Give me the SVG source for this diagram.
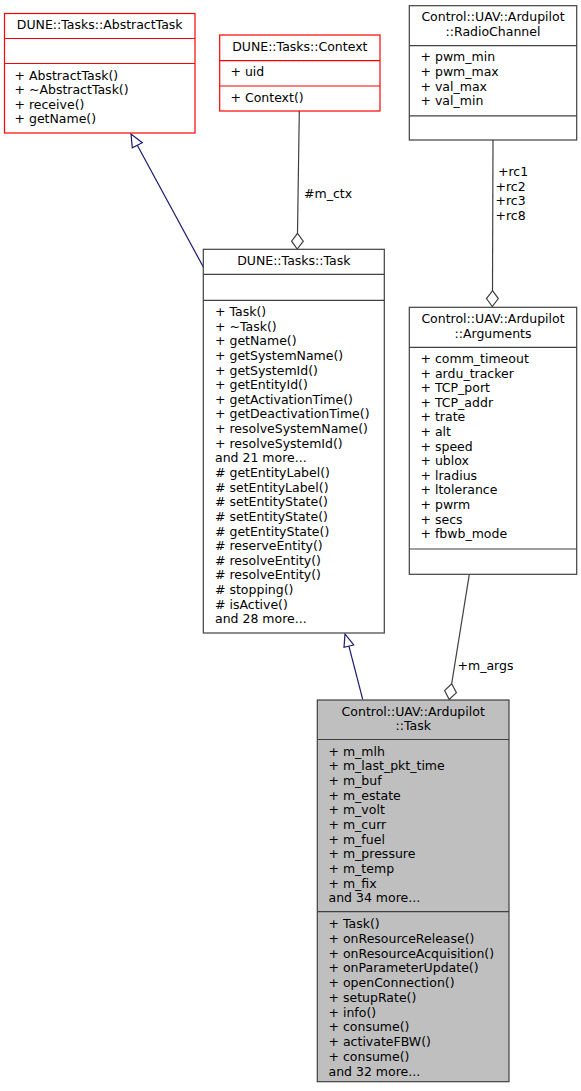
<svg xmlns="http://www.w3.org/2000/svg" width="581" height="1091" viewBox="0 0 581 1091">
<style>
text{font-family:"DejaVu Sans","Liberation Sans",sans-serif;font-size:12.5px;fill:#000}
.t{text-anchor:middle}
.box{fill:#fff;stroke:#404040;stroke-width:1.2}
.red{fill:#fff;stroke:#ff0000;stroke-width:1.2}
.main{fill:#bfbfbf;stroke:#404040;stroke-width:1.2}
.sep{stroke:#404040;stroke-width:1.2}
.sepr{stroke:#ff0000;stroke-width:1.2}
.inh{stroke:#191970;stroke-width:1.2;fill:none}
.inhh{stroke:#191970;stroke-width:1.2;fill:#fff}
.agg{stroke:#404040;stroke-width:1.2;fill:none}
.aggh{stroke:#404040;stroke-width:1.2;fill:#fff}
</style>
<rect width="581" height="1091" fill="#fff"/>
<g id="connectors">
<line class="inh" x1="204" y1="268.3" x2="137.3" y2="145.2"/>
<polygon class="inhh" points="131,134 132.3,147.7 142.3,142.7"/>
<line class="inh" x1="362.7" y1="699.3" x2="348.9" y2="646.2"/>
<polygon class="inhh" points="345,634 344,647.3 353.7,645"/>
<line class="agg" x1="299.3" y1="111" x2="297.5" y2="233.3"/>
<polygon class="aggh" points="297.5,233.3 303.3,241.2 297.2,249 291.6,241.2"/>
<text x="304" y="197.5">#m_ctx</text>
<line class="agg" x1="493" y1="140" x2="492.5" y2="290.7"/>
<polygon class="aggh" points="492.5,290.7 498.3,298.6 492.3,306.5 486.5,298.6"/>
<text x="498" y="176">+rc1</text>
<text x="495.5" y="190.5">+rc2</text>
<text x="495.5" y="205">+rc3</text>
<text x="495.5" y="219.5">+rc8</text>
<line class="agg" x1="469.3" y1="574.3" x2="451.7" y2="683.7"/>
<polygon class="aggh" points="451.7,683.7 456.4,692.6 449.2,699.5 444.6,690.6"/>
<text x="457.5" y="670">+m_args</text>
</g>
<g id="node-abstracttask">
<rect class="red" x="4.5" y="13.5" width="190.5" height="119.5"/>
<line class="sepr" x1="4.5" y1="38.5" x2="195" y2="38.5"/>
<line class="sepr" x1="4.5" y1="63.5" x2="195" y2="63.5"/>
<text class="t" x="99.7" y="29.2">DUNE::Tasks::AbstractTask</text>
<text x="14.5" y="79.5">+ AbstractTask()</text>
<text x="14.5" y="94.1">+ ~AbstractTask()</text>
<text x="14.5" y="108.7">+ receive()</text>
<text x="14.5" y="123.3">+ getName()</text>
</g>
<g id="node-context">
<rect class="red" x="219.7" y="35" width="160.3" height="76"/>
<line class="sepr" x1="219.7" y1="60.7" x2="380" y2="60.7"/>
<line class="sepr" x1="219.7" y1="86" x2="380" y2="86"/>
<text class="t" x="299.8" y="50.7">DUNE::Tasks::Context</text>
<text x="230.5" y="76.4">+ uid</text>
<text x="230.5" y="101.7">+ Context()</text>
</g>
<g id="node-radiochannel">
<rect class="box" x="409.3" y="5.7" width="167.4" height="134.3"/>
<line class="sep" x1="409.3" y1="45.7" x2="576.7" y2="45.7"/>
<line class="sep" x1="409.3" y1="115.8" x2="576.7" y2="115.8"/>
<text class="t" x="493" y="21.4">Control::UAV::Ardupilot</text>
<text class="t" x="493" y="36">::RadioChannel</text>
<text x="420.5" y="61.4">+ pwm_min</text>
<text x="420.5" y="76">+ pwm_max</text>
<text x="420.5" y="90.6">+ val_max</text>
<text x="420.5" y="105.2">+ val_min</text>
</g>
<g id="node-task">
<rect class="box" x="203.3" y="249.3" width="181" height="383.7"/>
<line class="sep" x1="203.3" y1="274.3" x2="384.3" y2="274.3"/>
<line class="sep" x1="203.3" y1="300.3" x2="384.3" y2="300.3"/>
<text class="t" x="293.8" y="265">DUNE::Tasks::Task</text>
<text x="215" y="316">+ Task()</text>
<text x="215" y="330.6">+ ~Task()</text>
<text x="215" y="345.3">+ getName()</text>
<text x="215" y="359.9">+ getSystemName()</text>
<text x="215" y="374.5">+ getSystemId()</text>
<text x="215" y="389.2">+ getEntityId()</text>
<text x="215" y="403.8">+ getActivationTime()</text>
<text x="215" y="418.4">+ getDeactivationTime()</text>
<text x="215" y="433">+ resolveSystemName()</text>
<text x="215" y="447.7">+ resolveSystemId()</text>
<text x="215" y="462.3">and 21 more...</text>
<text x="215" y="476.9"># getEntityLabel()</text>
<text x="215" y="491.6"># setEntityLabel()</text>
<text x="215" y="506.2"># setEntityState()</text>
<text x="215" y="520.8"># setEntityState()</text>
<text x="215" y="535.5"># getEntityState()</text>
<text x="215" y="550.1"># reserveEntity()</text>
<text x="215" y="564.7"># resolveEntity()</text>
<text x="215" y="579.3"># resolveEntity()</text>
<text x="215" y="594"># stopping()</text>
<text x="215" y="608.6"># isActive()</text>
<text x="215" y="623.2">and 28 more...</text>
</g>
<g id="node-arguments">
<rect class="box" x="409.3" y="307.3" width="167.4" height="267"/>
<line class="sep" x1="409.3" y1="347.3" x2="576.7" y2="347.3"/>
<line class="sep" x1="409.3" y1="549" x2="576.7" y2="549"/>
<text class="t" x="493" y="323">Control::UAV::Ardupilot</text>
<text class="t" x="493" y="337.6">::Arguments</text>
<text x="420.5" y="363">+ comm_timeout</text>
<text x="420.5" y="377.6">+ ardu_tracker</text>
<text x="420.5" y="392.2">+ TCP_port</text>
<text x="420.5" y="406.8">+ TCP_addr</text>
<text x="420.5" y="421.4">+ trate</text>
<text x="420.5" y="436">+ alt</text>
<text x="420.5" y="450.6">+ speed</text>
<text x="420.5" y="465.2">+ ublox</text>
<text x="420.5" y="479.8">+ lradius</text>
<text x="420.5" y="494.4">+ ltolerance</text>
<text x="420.5" y="509">+ pwrm</text>
<text x="420.5" y="523.6">+ secs</text>
<text x="420.5" y="538.2">+ fbwb_mode</text>
</g>
<g id="node-ardupilot-task">
<rect class="main" x="317.3" y="700" width="191.7" height="381.7"/>
<line class="sep" x1="317.3" y1="739.5" x2="509" y2="739.5"/>
<line class="sep" x1="317.3" y1="911.7" x2="509" y2="911.7"/>
<text class="t" x="413.2" y="715.7">Control::UAV::Ardupilot</text>
<text class="t" x="413.2" y="730.3">::Task</text>
<text x="328.5" y="755.5">+ m_mlh</text>
<text x="328.5" y="770.2">+ m_last_pkt_time</text>
<text x="328.5" y="784.8">+ m_buf</text>
<text x="328.5" y="799.5">+ m_estate</text>
<text x="328.5" y="814.2">+ m_volt</text>
<text x="328.5" y="828.9">+ m_curr</text>
<text x="328.5" y="843.5">+ m_fuel</text>
<text x="328.5" y="858.2">+ m_pressure</text>
<text x="328.5" y="872.9">+ m_temp</text>
<text x="328.5" y="887.5">+ m_fix</text>
<text x="328.5" y="902.2">and 34 more...</text>
<text x="328.5" y="928">+ Task()</text>
<text x="328.5" y="942.8">+ onResourceRelease()</text>
<text x="328.5" y="957.5">+ onResourceAcquisition()</text>
<text x="328.5" y="972.3">+ onParameterUpdate()</text>
<text x="328.5" y="987.1">+ openConnection()</text>
<text x="328.5" y="1001.9">+ setupRate()</text>
<text x="328.5" y="1016.6">+ info()</text>
<text x="328.5" y="1031.4">+ consume()</text>
<text x="328.5" y="1046.2">+ activateFBW()</text>
<text x="328.5" y="1060.9">+ consume()</text>
<text x="328.5" y="1075.7">and 32 more...</text>
</g>
</svg>
